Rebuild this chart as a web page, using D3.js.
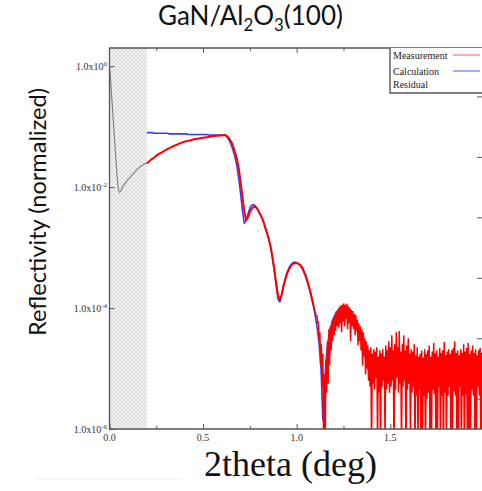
<!DOCTYPE html>
<html>
<head>
<meta charset="utf-8">
<script src="https://cdn.jsdelivr.net/npm/d3@7"></script>
<style>
  html, body { margin: 0; padding: 0; background: #fff; }
  svg { display: block; }
</style>
</head>
<body>
<svg id="chart" width="482" height="491"></svg>
<script>
// ---- data (reflectivity stored as log10 values) ----
// measurement inside the excluded low-angle window, 0.000–0.200 deg
const lowStart = 0.0, lowStep = 0.005;
const lowLog = [
  0.02, -0.20, -0.43, -0.66, -0.89, -1.12, -1.34, -1.57, -1.80, -1.98,
  -2.07, -2.09, -2.07, -2.03, -2.00, -1.97, -1.95, -1.93, -1.91, -1.89,
  -1.87, -1.855, -1.84, -1.82, -1.80, -1.785, -1.77, -1.75, -1.73, -1.715,
  -1.70, -1.685, -1.67, -1.66, -1.65, -1.64, -1.63, -1.62, -1.615, -1.61,
  -1.61
];

// measurement, smooth part 0.20–1.09 deg
const measStart = 0.20, measStep = 0.01;
const measLog = [
  -1.61, -1.58, -1.55, -1.53, -1.505, -1.48, -1.46, -1.44, -1.425, -1.405,
  -1.39, -1.37, -1.355, -1.34, -1.325, -1.31, -1.30, -1.285, -1.27, -1.26,
  -1.25, -1.24, -1.235, -1.23, -1.22, -1.21, -1.205, -1.20, -1.195, -1.19,
  -1.185, -1.18, -1.175, -1.17, -1.165, -1.16, -1.155, -1.15, -1.15, -1.145,
  -1.145, -1.14, -1.14, -1.16, -1.20, -1.25, -1.32, -1.42, -1.52, -1.68,
  -1.91, -2.15, -2.40, -2.55, -2.50, -2.41, -2.36, -2.33, -2.33, -2.36,
  -2.42, -2.48, -2.55, -2.65, -2.75, -2.85, -2.97, -3.15, -3.35, -3.58,
  -3.78, -3.86, -3.78, -3.63, -3.52, -3.42, -3.35, -3.30, -3.27, -3.26,
  -3.26, -3.27, -3.29, -3.33, -3.40, -3.48, -3.58, -3.69, -3.82, -3.95
];

// measurement, noisy tail 1.100–1.996 deg
const noisyStart = 1.10, noisyStep = 0.004;
const noisyLog = [
  -4.08, -4.14, -4.12, -4.26, -4.22, -4.55, -4.40, -4.95, -4.60, -5.30,
  -4.75, -6.40, -5.10, -6.50, -4.85, -5.40, -4.55, -5.25, -4.35, -4.95,
  -4.30, -4.70, -4.22, -4.55, -4.18, -4.45, -4.12, -4.38, -4.05, -4.30,
  -4.02, -4.32, -3.98, -4.25, -3.96, -4.40, -3.94, -4.22, -3.92, -4.30,
  -3.95, -4.18, -3.93, -4.35, -3.97, -4.25, -4.00, -4.55, -4.03, -4.30,
  -4.05, -4.35, -4.10, -4.45, -4.12, -4.38, -4.20, -4.62, -4.25, -4.55,
  -4.30, -4.70, -4.35, -4.95, -4.40, -4.80, -4.50, -5.10, -4.55, -5.00,
  -4.62, -5.20, -4.70, -5.30, -4.65, -6.40, -4.75, -5.25, -4.68, -5.35,
  -4.72, -5.15, -4.65, -6.30, -4.80, -5.40, -4.70, -6.50, -4.75, -5.30,
  -4.68, -5.20, -4.80, -6.20, -4.62, -5.35, -4.70, -5.25, -4.55, -5.40,
  -4.65, -5.30, -4.45, -5.20, -4.70, -6.40, -4.60, -5.35, -4.40, -5.15,
  -4.65, -5.40, -4.38, -5.25, -4.72, -6.30, -4.60, -5.30, -4.45, -5.20,
  -4.70, -6.50, -4.62, -5.35, -4.50, -5.25, -4.75, -6.20, -4.68, -5.40,
  -4.72, -5.30, -4.60, -6.40, -4.78, -5.45, -4.65, -6.30, -4.80, -5.35,
  -4.75, -6.50, -4.70, -6.30, -4.82, -5.45, -4.68, -6.40, -4.76, -5.50,
  -4.70, -5.40, -4.62, -6.20, -4.80, -6.35, -4.72, -5.35, -4.58, -5.42,
  -4.75, -6.30, -4.70, -6.25, -4.80, -5.30, -4.66, -6.40, -4.74, -5.45,
  -4.70, -6.45, -4.56, -5.40, -4.78, -6.30, -4.72, -5.45, -4.68, -5.30,
  -4.76, -6.30, -4.70, -6.20, -4.66, -5.38, -4.55, -5.45, -4.74, -6.40,
  -4.70, -6.30, -4.78, -5.30, -4.68, -6.30, -4.74, -5.45, -4.60, -6.50,
  -4.72, -5.42, -4.66, -6.30, -4.58, -6.25, -4.76, -6.40, -4.70, -5.35,
  -4.62, -5.45, -4.74, -6.20, -4.68, -6.40, -4.78, -5.30, -4.70, -5.45,
  -4.66, -6.30, -4.74, -6.30, -4.70
];

// calculated curve 0.20–1.99 deg
const calcStart = 0.20, calcStep = 0.01;
const calcLog = [
  -1.10, -1.10, -1.10, -1.10, -1.11, -1.11, -1.11, -1.11, -1.11, -1.11,
  -1.11, -1.11, -1.12, -1.12, -1.12, -1.12, -1.12, -1.12, -1.12, -1.12,
  -1.12, -1.12, -1.13, -1.13, -1.13, -1.13, -1.13, -1.13, -1.13, -1.13,
  -1.13, -1.13, -1.13, -1.14, -1.14, -1.14, -1.14, -1.14, -1.14, -1.14,
  -1.14, -1.14, -1.15, -1.18, -1.23, -1.30, -1.39, -1.50, -1.64, -1.85,
  -2.10, -2.38, -2.60, -2.55, -2.44, -2.35, -2.30, -2.29, -2.31, -2.36,
  -2.42, -2.48, -2.55, -2.64, -2.74, -2.85, -2.98, -3.16, -3.37, -3.62,
  -3.85, -3.90, -3.78, -3.62, -3.50, -3.40, -3.33, -3.28, -3.25, -3.24,
  -3.25, -3.27, -3.30, -3.35, -3.42, -3.50, -3.60, -3.71, -3.84, -3.98,
  -4.14, -4.34, -4.60, -5.00, -5.85, -5.20, -4.75, -4.50, -4.34, -4.22,
  -4.14, -4.08, -4.04, -4.02, -4.01, -4.01, -4.02, -4.04, -4.07, -4.11,
  -4.16, -4.22, -4.29, -4.37, -4.46, -4.56, -4.68, -4.82, -4.98, -5.12,
  -5.15, -5.08, -4.98, -4.90, -4.85, -4.82, -4.82, -4.84, -4.88, -4.93,
  -4.98, -5.04, -5.10, -5.14, -5.12, -5.06, -5.00, -4.97, -4.96, -4.96,
  -4.97, -4.99, -5.03, -5.08, -5.13, -5.17, -5.18, -5.14, -5.10, -5.07,
  -5.06, -5.06, -5.08, -5.11, -5.15, -5.18, -5.17, -5.13, -5.10, -5.09,
  -5.10, -5.12, -5.15, -5.18, -5.19, -5.16, -5.13, -5.12, -5.13, -5.15,
  -5.18, -5.20, -5.20, -5.17, -5.15, -5.15, -5.16, -5.18, -5.20, -5.21
];

const xMajorTicks = [0, 0.5, 1.0, 1.5];
const xMinorTicks = [0.25, 0.75, 1.25, 1.75];
const xTopTicks = [0.25, 0.5, 0.75, 1.0, 1.25, 1.5, 1.75];
const yExponents = [0, -2, -4, -6];
const rightTickExponents = [-0.5, -1.5, -2.5, -3.5, -4.5, -5.5];
const excludedRange = [0, 0.2];
const legendLabels = ["Measurement", "Calculation", "Residual"];
const legendColors = ["#ff5a5a", "#5a5aff", null];

// ---- layout ----
const W = 482, H = 491;
const plot = { left: 109.5, right: 482, top: 48, bottom: 429 };

const svg = d3.select("#chart");

const x = d3.scaleLinear().domain([0, 1.99]).range([plot.left, plot.right]);
const y = d3.scaleLog().domain([1e-6, Math.pow(10, 0.3)]).range([plot.bottom, plot.top]);

const toPoints = (start, step, logs) => logs.map((v, i) => [start + i * step, Math.pow(10, v)]);

const lowPts = toPoints(lowStart, lowStep, lowLog);
const measPts = toPoints(measStart, measStep, measLog);
const noisyPts = [measPts[measPts.length - 1]].concat(toPoints(noisyStart, noisyStep, noisyLog));
const calcPts = toPoints(calcStart, calcStep, calcLog);

const defs = svg.append("defs");
defs.append("clipPath").attr("id", "plotClip")
  .append("rect")
  .attr("x", plot.left).attr("y", plot.top)
  .attr("width", plot.right - plot.left).attr("height", plot.bottom - plot.top);

const hatch = defs.append("pattern")
  .attr("id", "hatch").attr("patternUnits", "userSpaceOnUse")
  .attr("width", 4).attr("height", 4);
hatch.append("rect").attr("width", 4).attr("height", 4).attr("fill", "#f3f3f3");
hatch.append("path").attr("d", "M0,0 L4,4 M4,0 L0,4")
  .attr("stroke", "#cdcdcd").attr("stroke-width", 0.6);

// excluded low-angle window
svg.append("rect")
  .attr("x", x(excludedRange[0]))
  .attr("y", plot.top)
  .attr("width", x(excludedRange[1]) - x(excludedRange[0]))
  .attr("height", plot.bottom - plot.top)
  .attr("fill", "url(#hatch)");

const line = d3.line().x(d => x(d[0])).y(d => y(d[1]));
const g = svg.append("g").attr("clip-path", "url(#plotClip)");

g.append("path").datum(lowPts).attr("d", line)
  .attr("fill", "none").attr("stroke", "#7a7a7a").attr("stroke-width", 1.1);

g.append("path").datum(calcPts).attr("d", line)
  .attr("fill", "none").attr("stroke", "#3a3aff").attr("stroke-width", 1.6)
  .attr("stroke-linejoin", "round");

g.append("path").datum(noisyPts).attr("d", line)
  .attr("fill", "none").attr("stroke", "#ff0000").attr("stroke-width", 1.5)
  .attr("stroke-linejoin", "bevel");

g.append("path").datum(measPts).attr("d", line)
  .attr("fill", "none").attr("stroke", "#ff0000").attr("stroke-width", 2)
  .attr("stroke-linejoin", "round");

// ---- axes ----
const axisColor = "#555";

const bottomMajor = svg.append("g").attr("transform", `translate(0,${plot.bottom})`)
  .call(d3.axisBottom(x).tickValues(xMajorTicks).tickSizeInner(-5).tickSizeOuter(0).tickFormat(""));
const bottomMinor = svg.append("g").attr("transform", `translate(0,${plot.bottom})`)
  .call(d3.axisBottom(x).tickValues(xMinorTicks).tickSizeInner(-3).tickSizeOuter(0).tickFormat(""));
const topTicks = svg.append("g").attr("transform", `translate(0,${plot.top})`)
  .call(d3.axisTop(x).tickValues(xTopTicks).tickSizeInner(0).tickSizeOuter(0).tickFormat(""));
topTicks.selectAll(".tick line")
  .attr("y2", d => (Math.abs(d * 2 - Math.round(d * 2)) < 1e-9 ? 5 : 3));
const leftAxis = svg.append("g").attr("transform", `translate(${plot.left},0)`)
  .call(d3.axisLeft(y).tickValues(yExponents.map(e => Math.pow(10, e))).tickSizeInner(-5).tickSizeOuter(0).tickFormat(""));
const rightAxis = svg.append("g").attr("transform", `translate(${plot.right},0)`)
  .call(d3.axisRight(y).tickValues(rightTickExponents.map(e => Math.pow(10, e))).tickSizeInner(-5).tickSizeOuter(0).tickFormat(""));

[bottomMajor, bottomMinor, topTicks, leftAxis, rightAxis].forEach(a => {
  a.select(".domain").remove();
  a.selectAll(".tick line").attr("stroke", axisColor).attr("stroke-width", 1);
});

// frame
svg.append("path")
  .attr("d", `M${plot.right},${plot.top} H${plot.left} V${plot.bottom} H${plot.right}`)
  .attr("fill", "none").attr("stroke", axisColor).attr("stroke-width", 1.3);

// tick labels
const serif = "'Liberation Serif', 'Times New Roman', serif";
svg.append("g").selectAll("text").data(xMajorTicks).join("text")
  .attr("x", d => x(d)).attr("y", plot.bottom + 12)
  .attr("text-anchor", "middle")
  .attr("font-family", serif).attr("font-size", 10).attr("fill", "#333")
  .text(d => d3.format(".1f")(d));

const yl = svg.append("g").selectAll("text").data(yExponents).join("text")
  .attr("x", plot.left - 2.5).attr("y", d => y(Math.pow(10, d)) + 4)
  .attr("text-anchor", "end")
  .attr("font-family", serif).attr("font-size", 10).attr("fill", "#333");
yl.append("tspan").text("1.0x10");
yl.append("tspan").attr("dy", -4.5).attr("font-size", 7).text(d => String(d));

// legend box
const lg = svg.append("g");
lg.append("rect").attr("x", 390).attr("y", plot.top).attr("width", plot.right - 390).attr("height", 45)
  .attr("fill", "#fff");
lg.append("path").attr("d", `M390,${plot.top} V93 H${plot.right}`)
  .attr("fill", "none").attr("stroke", "#555").attr("stroke-width", 1.4);
const legendY = [59, 75, 88];
legendLabels.forEach((lab, i) => {
  lg.append("text").attr("x", 393).attr("y", legendY[i])
    .attr("font-family", serif).attr("font-size", 10).attr("fill", "#222")
    .text(lab);
  if (legendColors[i]) {
    lg.append("line").attr("x1", 453).attr("x2", 480)
      .attr("y1", legendY[i] - 4).attr("y2", legendY[i] - 4)
      .attr("stroke", legendColors[i]).attr("stroke-width", 1);
  }
});

// ---- titles ----
function fitWidth(sel, target) {
  const w = sel.node().getBBox().width;
  const fs = parseFloat(sel.attr("font-size"));
  sel.attr("font-size", fs * target / w);
}
const sans = "Lato, 'Open Sans', 'Noto Sans', sans-serif";

const title = svg.append("text")
  .attr("x", 250.5).attr("y", 25).attr("text-anchor", "middle")
  .attr("font-family", sans).attr("font-size", 24).attr("fill", "#111");
title.append("tspan").text("GaN/Al");
title.append("tspan").attr("font-size", "0.65em").attr("dy", 6).text("2");
title.append("tspan").attr("dy", -6).text("O");
title.append("tspan").attr("font-size", "0.65em").attr("dy", 6).text("3");
title.append("tspan").attr("dy", -6).text("(100)");
fitWidth(title, 185);

const ylab = svg.append("text")
  .attr("transform", "translate(46,212) rotate(-90)")
  .attr("text-anchor", "middle")
  .attr("font-family", sans).attr("font-size", 22).attr("fill", "#111")
  .text("Reflectivity (normalized)");
fitWidth(ylab, 248);

const xlab = svg.append("text")
  .attr("x", 204).attr("y", 476)
  .attr("font-family", serif).attr("font-size", 28).attr("fill", "#111")
  .text("2theta (deg)");
fitWidth(xlab, 173);

// faint rule beneath the plot
svg.append("line").attr("x1", 37).attr("x2", 183).attr("y1", 479).attr("y2", 479)
  .attr("stroke", "#efefef").attr("stroke-width", 1);
</script>
</body>
</html>
